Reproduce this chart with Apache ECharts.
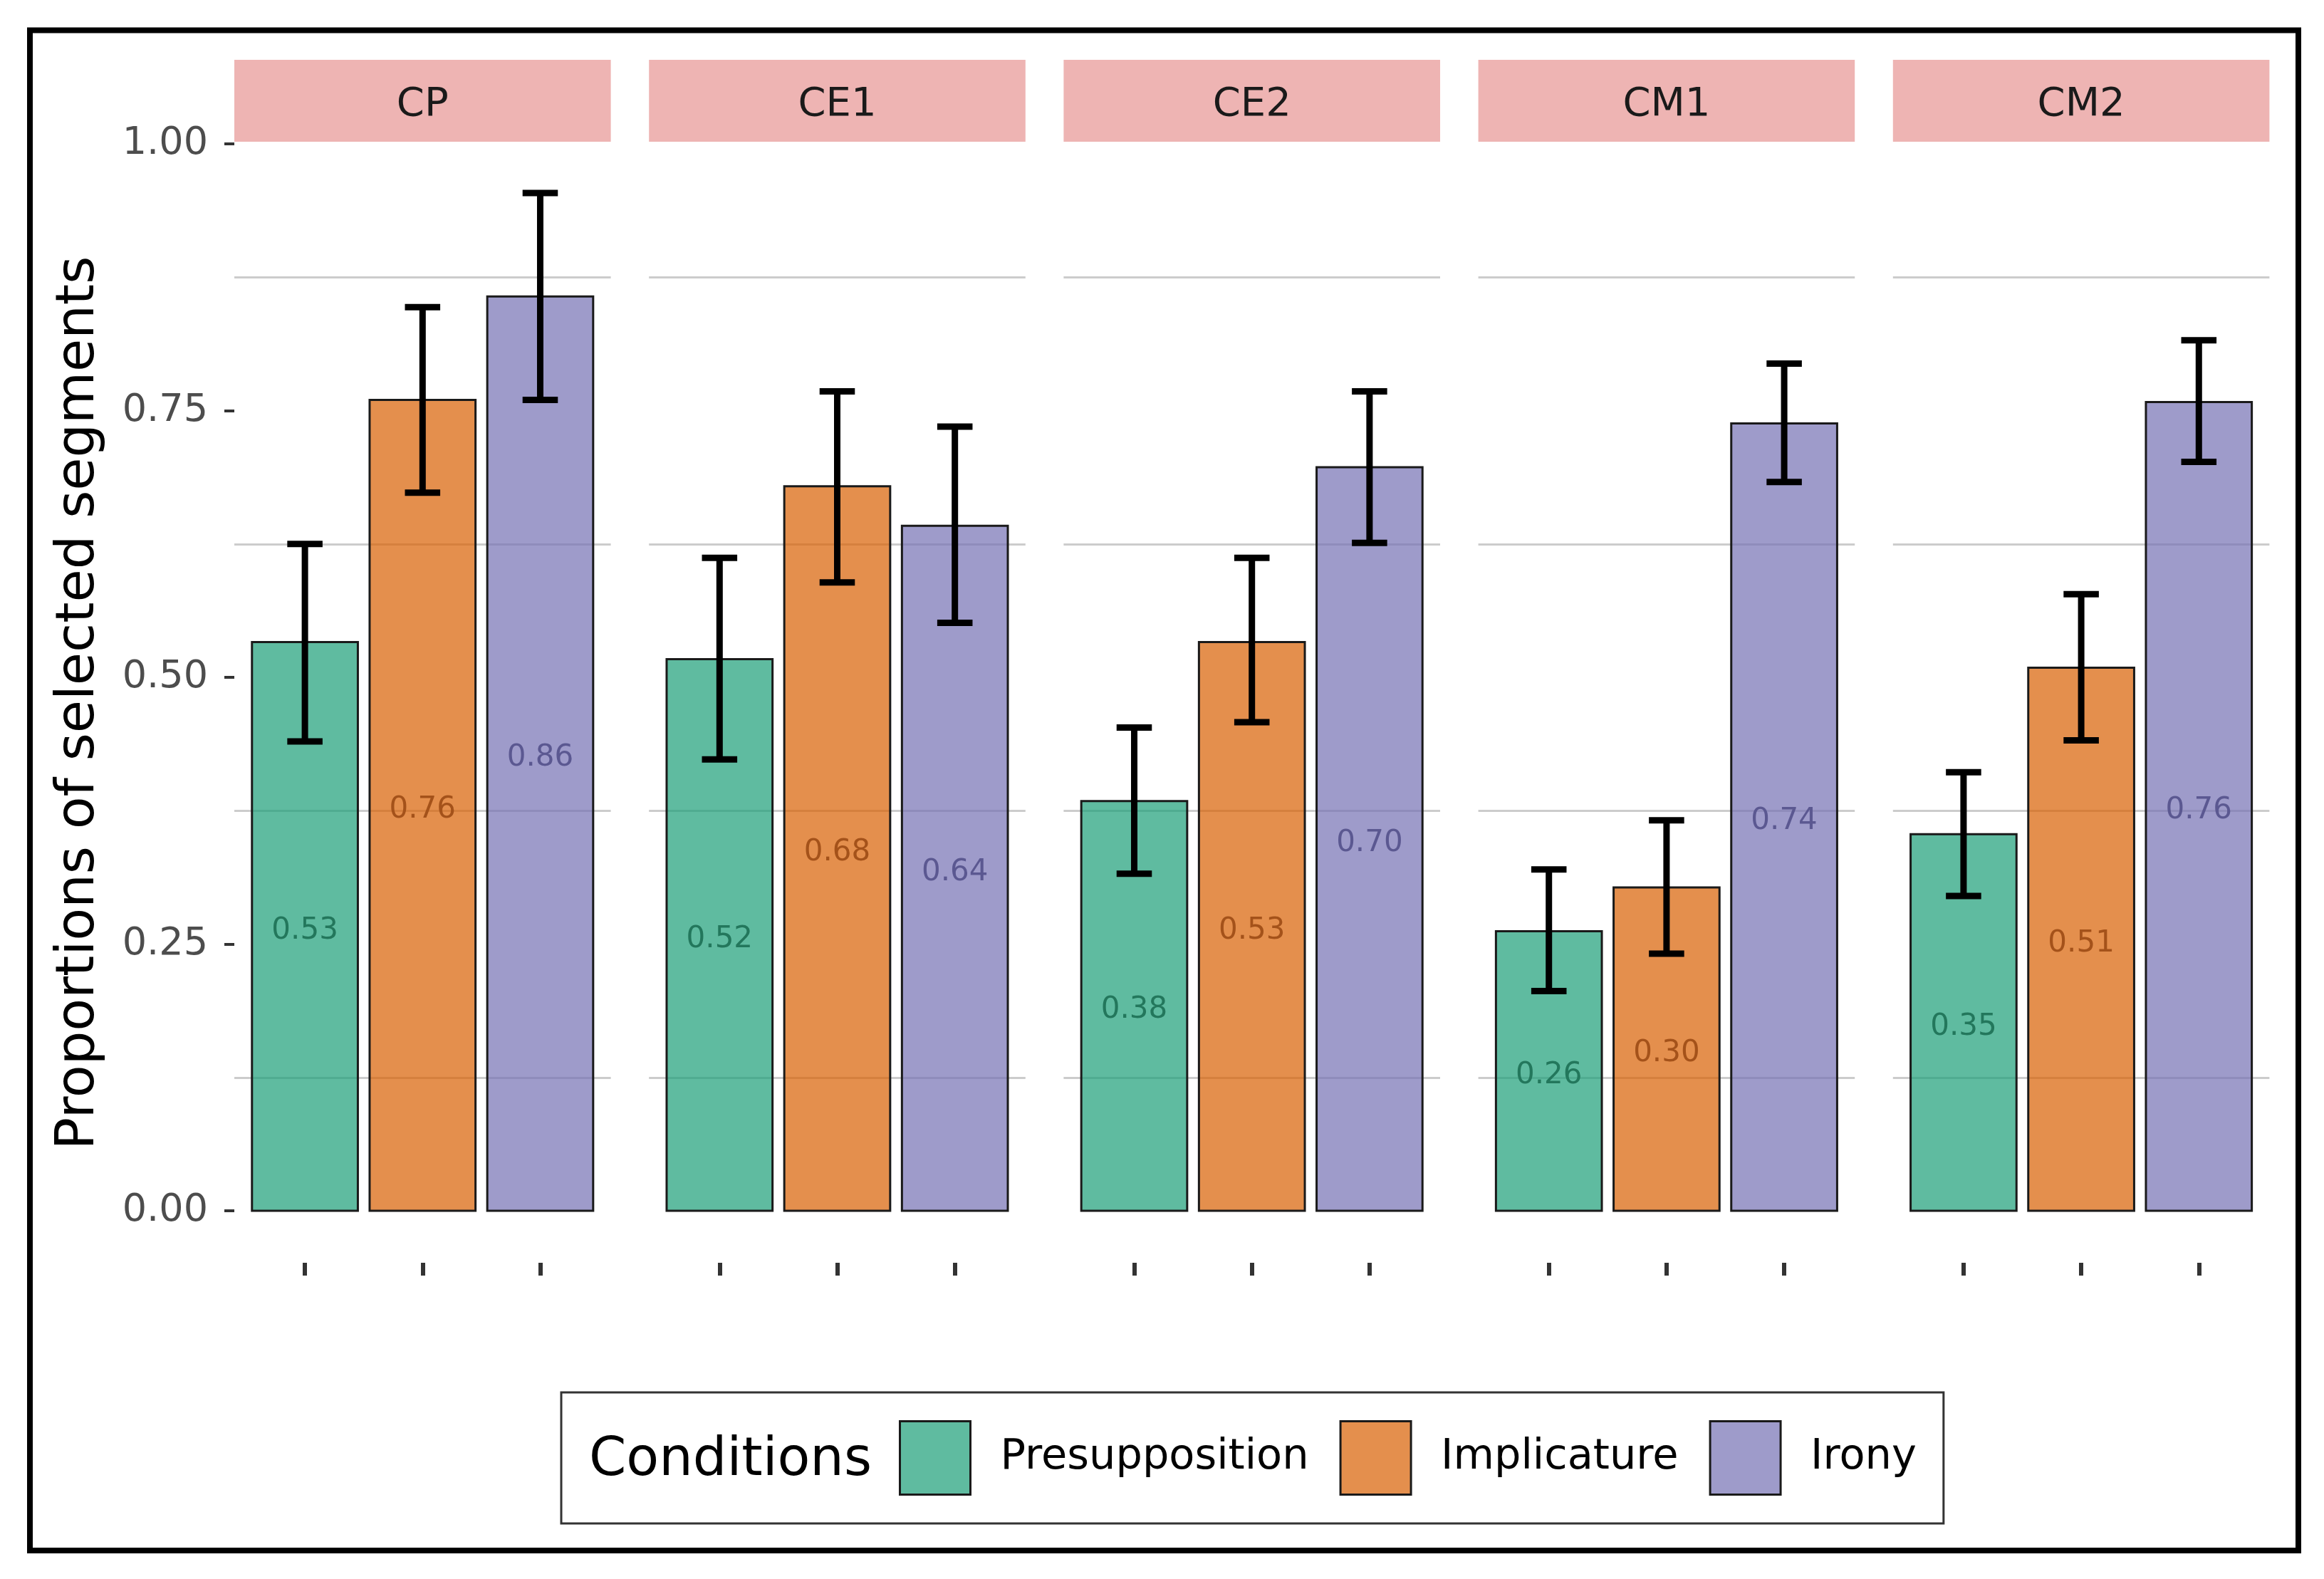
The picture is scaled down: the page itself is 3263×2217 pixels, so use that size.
<!DOCTYPE html>
<html>
<head>
<meta charset="utf-8">
<script src="https://cdn.jsdelivr.net/npm/echarts@6/dist/echarts.min.js"></script>
<style>
html,body{margin:0;padding:0;background:#fff;}
#chart{width:3263px;height:2217px;}
</style>
</head>
<body>
<div id="chart"></div>
<script>
// ---- data ----
const panels = ['CP', 'CE1', 'CE2', 'CM1', 'CM2'];
const conditions = ['Presupposition', 'Implicature', 'Irony'];
const presupposition     = [0.533, 0.517, 0.384, 0.262, 0.353];
const implicature        = [0.760, 0.679, 0.533, 0.303, 0.509];
const irony              = [0.857, 0.642, 0.697, 0.738, 0.758];
const presuppositionLow  = [0.440, 0.423, 0.316, 0.206, 0.295];
const presuppositionHigh = [0.625, 0.612, 0.453, 0.320, 0.411];
const implicatureLow     = [0.673, 0.589, 0.458, 0.241, 0.441];
const implicatureHigh    = [0.847, 0.768, 0.612, 0.366, 0.578];
const ironyLow           = [0.760, 0.551, 0.626, 0.683, 0.702];
const ironyHigh          = [0.954, 0.735, 0.768, 0.794, 0.816];
const yTickLabels = ['0.00', '0.25', '0.50', '0.75', '1.00'];
const yTitle = 'Proportions of selected segments';
const legendTitle = 'Conditions';

// ---- styling / layout ----
const FONT = '"DejaVu Sans", sans-serif';
const fills = ['rgba(27,158,119,0.7)', 'rgba(217,95,2,0.7)', 'rgba(117,112,179,0.7)'];
const labelColors = ['#23775c', '#a4521a', '#5b5891'];
const PANEL_LEFT = 329, PANEL_STEP = 582.2, PANEL_W = 528.6, PANEL_TOP = 202, PANEL_H = 1498;
const STRIP_TOP = 84, STRIP_H = 115;

const means = [presupposition, implicature, irony];
const lows = [presuppositionLow, implicatureLow, ironyLow];
const highs = [presuppositionHigh, implicatureHigh, ironyHigh];

function makeRender(ci) {
  return function (params, api) {
    const x = api.value(0), v = api.value(1), lo = api.value(2), hi = api.value(3);
    const tl = api.coord([x - 0.45, v]);
    const br = api.coord([x + 0.45, 0]);
    const mid = api.coord([x, v / 2]);
    const top = api.coord([x, hi]);
    const bot = api.coord([x, lo]);
    const capL = api.coord([x - 0.15, hi])[0];
    const capR = api.coord([x + 0.15, hi])[0];
    const lineStyle = { stroke: '#000', lineWidth: 9 };
    return {
      type: 'group',
      children: [
        { type: 'rect', shape: { x: tl[0], y: tl[1], width: br[0] - tl[0], height: br[1] - tl[1] },
          style: { fill: fills[ci], stroke: '#1a1a1a', lineWidth: 3 } },
        { type: 'text', x: mid[0], y: mid[1] + 6, z2: 5,
          style: { text: v.toFixed(2), fill: labelColors[ci], font: '42px ' + FONT, align: 'center', verticalAlign: 'middle' } },
        { type: 'line', z2: 10, shape: { x1: top[0], y1: top[1], x2: bot[0], y2: bot[1] }, style: lineStyle },
        { type: 'line', z2: 10, shape: { x1: capL, y1: top[1], x2: capR, y2: top[1] }, style: lineStyle },
        { type: 'line', z2: 10, shape: { x1: capL, y1: bot[1], x2: capR, y2: bot[1] }, style: lineStyle }
      ]
    };
  };
}

const grids = [], xAxes = [], yAxes = [], series = [], graphics = [];
panels.forEach(function (p, i) {
  const left = PANEL_LEFT + i * PANEL_STEP;
  grids.push({ left: left, top: PANEL_TOP, width: PANEL_W, height: PANEL_H });
  xAxes.push({
    gridIndex: i, type: 'value', min: 0.4, max: 3.6, offset: 73, position: 'bottom',
    axisLine: { show: false, onZero: false }, axisLabel: { show: false }, splitLine: { show: false },
    axisTick: { show: true, customValues: [1, 2, 3], length: 18, lineStyle: { color: '#333', width: 6 } }
  });
  const y = {
    gridIndex: i, type: 'value', min: 0, max: 1, interval: 0.25,
    splitLine: { show: false },
    minorTick: { show: false, splitNumber: 2 },
    minorSplitLine: { show: true, lineStyle: { color: '#cccccc', width: 3 } },
    axisLine: { show: false },
    axisTick: { show: i === 0, length: 14, lineStyle: { color: '#333', width: 4 } },
    axisLabel: { show: i === 0, margin: 37, fontSize: 54, color: '#4d4d4d', fontFamily: FONT, padding: [8, 0, 0, 0],
      formatter: function (v) { return yTickLabels[Math.round(v * 4)]; } }
  };
  if (i === 0) {
    y.name = yTitle;
    y.nameLocation = 'middle';
    y.nameRotate = 90;
    y.nameGap = 180;
    y.nameTextStyle = { fontSize: 75, color: '#000', fontFamily: FONT, padding: [0, 72, 0, 0] };
  }
  yAxes.push(y);
  conditions.forEach(function (c, ci) {
    series.push({
      type: 'custom', name: c, xAxisIndex: i, yAxisIndex: i,
      itemStyle: { color: fills[ci], borderColor: '#1a1a1a', borderWidth: 3 },
      renderItem: makeRender(ci),
      encode: { x: 0, y: [1, 2, 3] },
      data: [[ci + 1, means[ci][i], lows[ci][i], highs[ci][i]]]
    });
  });
  graphics.push({
    type: 'group', left: left, top: STRIP_TOP,
    children: [
      { type: 'rect', shape: { x: 0, y: 0, width: PANEL_W, height: STRIP_H }, style: { fill: '#eeb4b3' } },
      { type: 'text', x: PANEL_W / 2, y: STRIP_H / 2 + 6,
        style: { text: p, font: '56px ' + FONT, fill: '#1a1a1a', align: 'center', verticalAlign: 'middle' } }
    ]
  });
});

graphics.push({
  type: 'rect', z: -1, shape: { x: 42, y: 42.5, width: 3185, height: 2134.5 },
  style: { fill: 'none', stroke: '#000', lineWidth: 8 }
});
graphics.push({
  type: 'text', x: 827, y: 2052, z: 10,
  style: { text: legendTitle, font: '75px ' + FONT, fill: '#000', align: 'left', verticalAlign: 'middle' }
});

const chart = echarts.init(document.getElementById('chart'), null, { renderer: 'canvas' });
chart.setOption({
  backgroundColor: '#fff',
  animation: false,
  grid: grids,
  xAxis: xAxes,
  yAxis: yAxes,
  legend: {
    data: conditions, left: 788, top: 1955, orient: 'horizontal', icon: 'rect',
    itemWidth: 99, itemHeight: 103, itemGap: 43, padding: [39, 38, 39, 474],
    borderColor: '#333', borderWidth: 3, selectedMode: false,
    itemStyle: { borderColor: '#1a1a1a', borderWidth: 3 },
    textStyle: { fontFamily: FONT, fontSize: 59, color: '#000', padding: [10, 0, 0, 37] }
  },
  graphic: graphics,
  series: series
});
</script>
</body>
</html>
